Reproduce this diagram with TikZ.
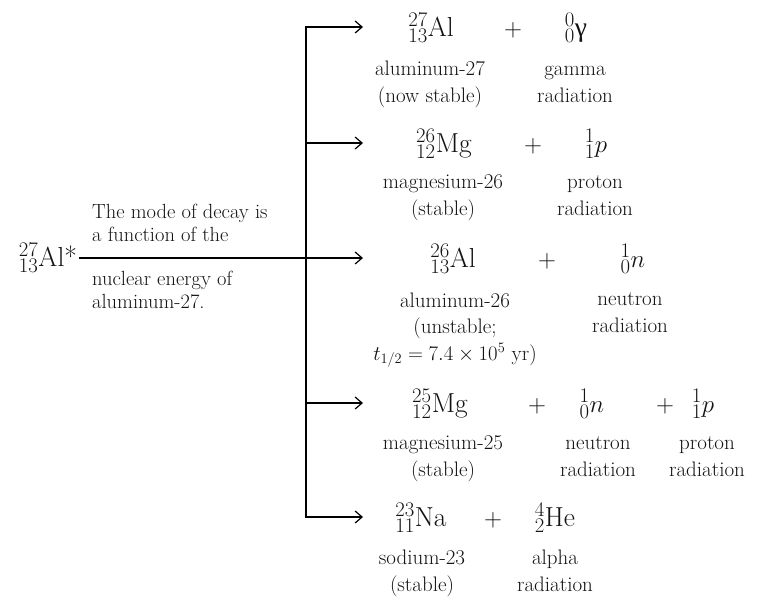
\documentclass[tikz,border=0pt]{standalone}
\usepackage{fontspec}
\newfontfamily\grk{Liberation Serif}
\usetikzlibrary{arrows.meta}
\definecolor{ink}{RGB}{20,18,18}
\tikzset{
 sym/.style={anchor=base, inner sep=0pt, font=\fontsize{27.5}{32}\selectfont, text=ink},
 lbl/.style={anchor=base, inner sep=0pt, align=center, font=\fontsize{21}{26.5}\selectfont, text=ink},
 note/.style={anchor=base west, inner sep=0pt, align=left, font=\fontsize{20.5}{22.5}\selectfont, text=ink},
 conn/.style={line width=1.2pt, draw=black, line join=miter},
 barb/.tip={Straight Barb[length=7pt,width=12pt,line width=1.2pt]},
 arr/.style={conn, -barb},
 arrboth/.style={conn, barb-barb},
}
\begin{document}
\begin{tikzpicture}[x=1pt,y=-1pt]
\useasboundingbox (0,0) rectangle (769,598);
% source
\node[sym] (src) at (48,266) {${}^{27}_{13}$Al*};
\node[note] (n1) at (92,241) {The mode of decay is\\a function of the};
\node[note] (n2) at (92,308) {nuclear energy of\\aluminum-27.};
% junction and tip coordinates
\coordinate (j1) at (306,27);
\coordinate (j2) at (306,143);
\coordinate (j3) at (306,258);
\coordinate (j4) at (306,403);
\coordinate (j5) at (306,517);
\coordinate (t1) at (363,27);
\coordinate (t2) at (363,143);
\coordinate (t3) at (363,258);
\coordinate (t4) at (363,403);
\coordinate (t5) at (363,517);
% row 1
\node[sym] (r1a) at (431,36) {${}^{27}_{13}\mathrm{Al}$};
\node[sym] (r1p) at (513,36) {$+$};
\node[sym] (r1b) at (576,36) {${}^{0}_{0}\mbox{\grk γ}$};
\node[lbl] (r1al) at (430,102) {aluminum-27\\(now stable)};
\node[lbl] (r1bl) at (575,102) {gamma\\radiation};
% row 2
\node[sym] (r2a) at (444,152) {${}^{26}_{12}\mathrm{Mg}$};
\node[sym] (r2p) at (533,152) {$+$};
\node[sym] (r2b) at (596,152) {${}^{1}_{1}p$};
\node[lbl] (r2al) at (443,215) {magnesium-26\\(stable)};
\node[lbl] (r2bl) at (595,215) {proton\\radiation};
% row 3
\node[sym] (r3a) at (453,267) {${}^{26}_{13}\mathrm{Al}$};
\node[sym] (r3p) at (547,267) {$+$};
\node[sym] (r3b) at (633,267) {${}^{1}_{0}n$};
\node[lbl] (r3al) at (455,360) {aluminum-26\\(unstable;\\$t_{1/2} = 7.4 \times 10^{5}$ yr)};
\node[lbl] (r3bl) at (630,332) {neutron\\radiation};
% row 4
\node[sym] (r4a) at (440,412) {${}^{25}_{12}\mathrm{Mg}$};
\node[sym] (r4p) at (537,412) {$+$};
\node[sym] (r4b) at (592,412) {${}^{1}_{0}n$};
\node[sym] (r4q) at (665,412) {$+$};
\node[sym] (r4c) at (703,412) {${}^{1}_{1}p$};
\node[lbl] (r4al) at (443,476) {magnesium-25\\(stable)};
\node[lbl] (r4bl) at (598,476) {neutron\\radiation};
\node[lbl] (r4cl) at (707,476) {proton\\radiation};
% row 5
\node[sym] (r5a) at (421,526) {${}^{23}_{11}\mathrm{Na}$};
\node[sym] (r5p) at (493,526) {$+$};
\node[sym] (r5b) at (555,526) {${}^{4}_{2}\mathrm{He}$};
\node[lbl] (r5al) at (422,591) {sodium-23\\(stable)};
\node[lbl] (r5bl) at (555,591) {alpha\\radiation};
% connectors
\draw[arr] ([xshift=2pt]src.east |- t3) -- (t3);
\draw[arrboth] (t1) -- (j1) -- (j5) -- (t5);
\draw[arr] (j2) -- (t2);
\draw[arr] (j4) -- (t4);
\end{tikzpicture}
\end{document}
